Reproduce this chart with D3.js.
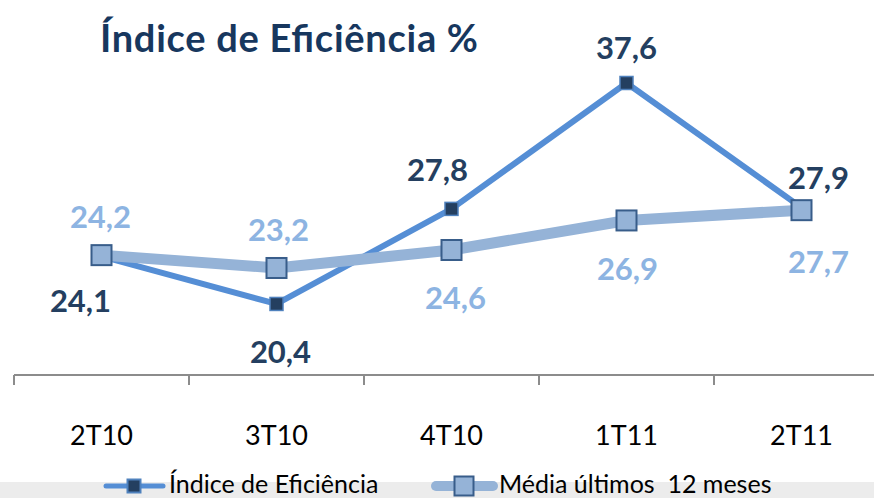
<!DOCTYPE html>
<html>
<head>
<meta charset="utf-8">
<script src="https://d3js.org/d3.v7.min.js"></script>
<style>
  body { margin: 0; background: #fff; }
  svg { display: block; font-family: Lato, "Open Sans", sans-serif; }
</style>
</head>
<body>
<svg id="chart" width="874" height="498"></svg>
<script>
// data
var categories = ["2T10", "3T10", "4T10", "1T11", "2T11"];
var indiceValues = [24.1, 20.4, 27.8, 37.6, 27.9];
var mediaValues = [24.2, 23.2, 24.6, 26.9, 27.7];
var seriesNames = ["Índice de Eficiência", "Média últimos  12 meses"];
// label placement relative to the point (dx, dy)
var indiceLabelOffsets = [[-21, 44], [4, 48], [-14, -39], [0, -35], [17, -30]];
var mediaLabelOffsets = [[-1, -38], [2, -38], [4, 48], [1, 48], [17, 52]];

var fmt = function(v) { return v.toFixed(1).replace(".", ","); };

var vis = d3.select("#chart"), WIDTH = 874, HEIGHT = 498;
var AXIS_Y = 375;

var xScale = d3.scaleBand().domain(categories).range([14, 889]);
var yScale = d3.scaleLinear().domain([14.87, 44.06]).range([AXIS_Y, 0]);
var cx = function(i) { return xScale(categories[i]) + xScale.bandwidth() / 2; };

// bottom gray strip
vis.append("rect").attr("x", 0).attr("y", 482).attr("width", WIDTH).attr("height", HEIGHT - 482)
   .attr("fill", "#ececec");

// title
vis.append("text").attr("x", 100).attr("y", 52)
   .attr("font-size", 38).attr("font-weight", "bold").attr("fill", "#17375e")
   .attr("textLength", 378).attr("lengthAdjust", "spacing")
   .text("Índice de Eficiência %");

// x axis: labels from d3 axis, boundary ticks drawn on band edges
var xAxis = d3.axisBottom(xScale).tickSize(0).tickPadding(0);
var gx = vis.append("g").attr("transform", "translate(0," + AXIS_Y + ")").call(xAxis);
gx.select(".domain").remove();
gx.selectAll("text").attr("y", 70).attr("dy", 0)
  .attr("font-family", "Lato, sans-serif").attr("font-size", 27).attr("fill", "#000");

vis.append("line").attr("x1", 14).attr("x2", WIDTH).attr("y1", AXIS_Y).attr("y2", AXIS_Y)
   .attr("stroke", "#8c8c8c").attr("stroke-width", 2);
var edges = categories.map(function(c) { return xScale(c); });
vis.selectAll(".edge").data(edges).enter().append("line")
   .attr("x1", function(d) { return d; }).attr("x2", function(d) { return d; })
   .attr("y1", AXIS_Y).attr("y2", AXIS_Y + 10)
   .attr("stroke", "#8c8c8c").attr("stroke-width", 2);

function lineGen() {
  return d3.line().x(function(d, i) { return cx(i); }).y(function(d) { return yScale(d); });
}

// Índice series
vis.append("path").attr("d", lineGen()(indiceValues))
   .attr("fill", "none").attr("stroke", "#558ed5").attr("stroke-width", 6).attr("stroke-linejoin", "round");
vis.selectAll(".mi").data(indiceValues).enter().append("rect")
   .attr("x", function(d, i) { return cx(i) - 6.5; }).attr("y", function(d) { return yScale(d) - 6.5; })
   .attr("width", 13).attr("height", 13)
   .attr("fill", "#243f60").attr("stroke", "#4f81bd").attr("stroke-width", 1.5);

// Média series
vis.append("path").attr("d", lineGen()(mediaValues))
   .attr("fill", "none").attr("stroke", "#95b3d7").attr("stroke-width", 11).attr("stroke-linejoin", "round");
vis.selectAll(".mm").data(mediaValues).enter().append("rect")
   .attr("x", function(d, i) { return cx(i) - 10; }).attr("y", function(d) { return yScale(d) - 10; })
   .attr("width", 20).attr("height", 20)
   .attr("fill", "#95b3d7").attr("stroke", "#385d8a").attr("stroke-width", 2);

// data labels
function labels(values, offsets, color) {
  vis.append("g").selectAll("text").data(values).enter().append("text")
     .attr("x", function(d, i) { return cx(i) + offsets[i][0]; })
     .attr("y", function(d, i) { return yScale(d) + offsets[i][1]; })
     .attr("dy", "0.36em").attr("text-anchor", "middle")
     .attr("font-size", 31).attr("font-weight", "bold").attr("fill", color)
     .text(fmt);
}
labels(indiceValues, indiceLabelOffsets, "#243f60");
labels(mediaValues, mediaLabelOffsets, "#8db4e2");

// legend
var legend = [
  { x: 103, name: seriesNames[0], line: "#558ed5", lw: 5, fill: "#243f60", stroke: "#4f81bd", size: 13 },
  { x: 433, name: seriesNames[1], line: "#95b3d7", lw: 10, fill: "#95b3d7", stroke: "#385d8a", size: 19 }
];
var LY = 486;
legend.forEach(function(l) {
  vis.append("line").attr("x1", l.x + 3).attr("x2", l.x + 60).attr("y1", LY).attr("y2", LY)
     .attr("stroke", l.line).attr("stroke-width", l.lw).attr("stroke-linecap", "round");
  vis.append("rect").attr("x", l.x + 31 - l.size / 2).attr("y", LY - l.size / 2)
     .attr("width", l.size).attr("height", l.size)
     .attr("fill", l.fill).attr("stroke", l.stroke).attr("stroke-width", 2);
  vis.append("text").attr("x", l.x + 66).attr("y", LY + 7)
     .attr("font-size", 25).attr("fill", "#000").style("white-space", "pre").text(l.name);
});
</script>
</body>
</html>
